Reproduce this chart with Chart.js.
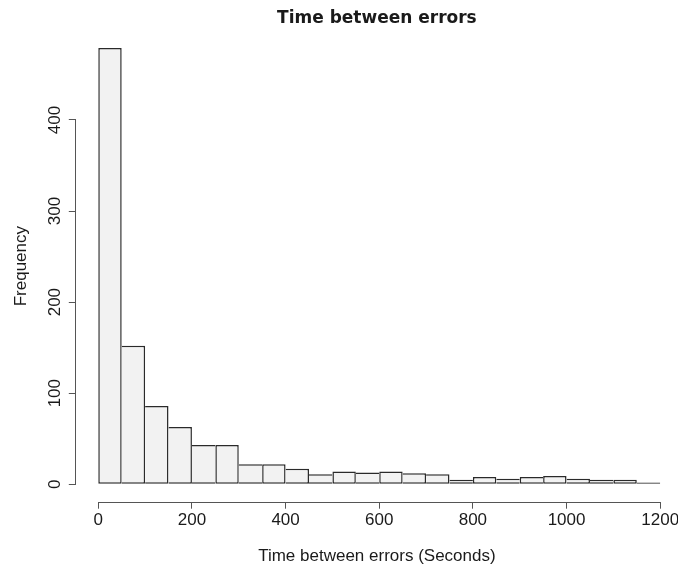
<!DOCTYPE html>
<html>
<head>
<meta charset="utf-8">
<script src="https://cdn.jsdelivr.net/npm/chart.js@4.4.1/dist/chart.umd.min.js"></script>
<style>
  body { margin: 0; background: #fff; }
  canvas { display: block; }
</style>
</head>
<body>
<canvas id="histChart" width="678" height="568"></canvas>
<script>
// histogram bins (seconds), 50 wide
const binStarts = [0, 50, 100, 150, 200, 250, 300, 350, 400, 450, 500, 550,
                   600, 650, 700, 750, 800, 850, 900, 950, 1000, 1050, 1100, 1150];
const binWidth = 50;
const counts = [479, 152, 86, 63, 43, 43, 22, 22, 17, 11, 14, 13,
                14, 12, 11, 5, 8, 6, 8, 9, 6, 5, 5, 2];

const xTicks = [0, 200, 400, 600, 800, 1000, 1200];
const yTicks = [0, 100, 200, 300, 400];

// R-style axis ranges (4% extension)
const xMin = -48, xMax = 1238;
const yMin = -19.16, yMax = 498.16;

const textColor = '#1a1a1a';
const axisColor = '#555';
const labelFont = "'Liberation Sans', Arial, sans-serif";

Chart.defaults.font.family = labelFont;
Chart.defaults.font.size = 17;
Chart.defaults.color = textColor;

const ctx = document.getElementById('histChart').getContext('2d');

// axis lines only span first..last tick, and y labels are rotated like R
const rAxes = {
  id: 'rAxes',
  afterDraw(chart) {
    const {ctx, chartArea, scales: {x, y}} = chart;
    ctx.save();
    ctx.strokeStyle = axisColor;
    ctx.lineWidth = 1;
    ctx.beginPath();
    const yb = Math.round(chartArea.bottom) + 0.5;
    ctx.moveTo(x.getPixelForValue(xTicks[0]), yb);
    ctx.lineTo(x.getPixelForValue(xTicks[xTicks.length - 1]), yb);
    const xl = Math.round(chartArea.left) - 0.5;
    ctx.moveTo(xl, y.getPixelForValue(yTicks[0]));
    ctx.lineTo(xl, y.getPixelForValue(yTicks[yTicks.length - 1]));
    ctx.stroke();

    ctx.fillStyle = textColor;
    ctx.font = '17px ' + labelFont;
    ctx.textAlign = 'center';
    ctx.textBaseline = 'middle';
    y.ticks.forEach(t => {
      ctx.save();
      ctx.translate(chartArea.left - 20, y.getPixelForValue(t.value));
      ctx.rotate(-Math.PI / 2);
      ctx.fillText(String(t.value), 0, 0);
      ctx.restore();
    });
    ctx.restore();
  }
};

const histChart = new Chart(ctx, {
  type: 'bar',
  data: {
    datasets: [{
      label: 'Frequency',
      data: binStarts.map((s, i) => ({x: s + binWidth / 2, y: counts[i]})),
      backgroundColor: '#f2f2f2',
      borderColor: '#2a2a2a',
      // shared edges drawn once, by the taller bar
      borderWidth: (c) => {
        const i = c.dataIndex;
        if (i === undefined) return 1.5;
        const v = counts[i];
        const prev = i > 0 ? counts[i - 1] : -1;
        const next = i < counts.length - 1 ? counts[i + 1] : -1;
        return {top: 1.5, bottom: 1.5, left: v >= prev ? 1.5 : 0, right: v > next ? 1.5 : 0};
      },
      borderSkipped: false,
      inflateAmount: 0,
      barPercentage: 1,
      categoryPercentage: 1
    }]
  },
  options: {
    responsive: false,
    animation: false,
    layout: { padding: 0 },
    plugins: {
      legend: { display: false },
      tooltip: { enabled: false },
      title: {
        display: true,
        text: 'Time between errors',
        fullSize: false,
        color: textColor,
        font: { family: "'DejaVu Sans', sans-serif", size: 17, weight: 'bold' },
        padding: { top: 8.8, bottom: 1.4 }
      }
    },
    scales: {
      x: {
        type: 'linear',
        min: xMin,
        max: xMax,
        offset: false,
        afterBuildTicks: (s) => { s.ticks = xTicks.map(v => ({value: v})); },
        afterFit: (s) => { s.height = 66.3; s.paddingLeft = 0; s.paddingRight = 0; },
        ticks: { padding: 1, maxRotation: 0, callback: (v) => String(v) },
        grid: { drawOnChartArea: false, drawTicks: true, tickLength: 7, color: axisColor, offset: false },
        border: { display: false },
        title: {
          display: true,
          text: 'Time between errors (Seconds)',
          padding: { top: 0, bottom: 1.8 }
        }
      },
      y: {
        min: yMin,
        max: yMax,
        afterBuildTicks: (s) => { s.ticks = yTicks.map(v => ({value: v})); },
        afterFit: (s) => { s.width = 75.8; s.paddingTop = 0; s.paddingBottom = 0; },
        ticks: { display: false },
        grid: { drawOnChartArea: false, drawTicks: true, tickLength: 7, color: axisColor },
        border: { display: false },
        title: {
          display: true,
          text: 'Frequency',
          padding: { top: 11.5, bottom: 0 }
        }
      }
    }
  },
  plugins: [rAxes]
});
</script>
</body>
</html>
